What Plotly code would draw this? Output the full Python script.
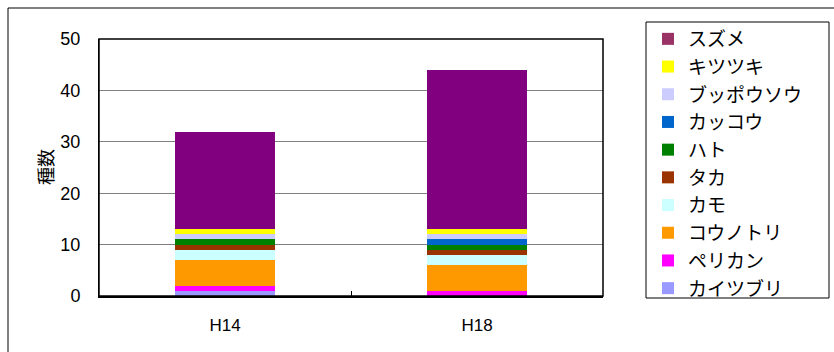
import plotly.graph_objects as go

categories = ["H14", "H18"]
# stacking order bottom -> top
species = ["カイツブリ", "ペリカン", "コウノトリ", "カモ", "タカ", "ハト", "カッコウ", "ブッポウソウ", "キツツキ", "スズメ"]
values = {
    "カイツブリ": [1, 0],
    "ペリカン": [1, 1],
    "コウノトリ": [5, 5],
    "カモ": [2, 2],
    "タカ": [1, 1],
    "ハト": [1, 1],
    "カッコウ": [0, 1],
    "ブッポウソウ": [1, 1],
    "キツツキ": [1, 1],
    "スズメ": [19, 31],
}
bar_colors = {
    "カイツブリ": "#9999FF", "ペリカン": "#FF00FF", "コウノトリ": "#FF9900", "カモ": "#CCFFFF",
    "タカ": "#993300", "ハト": "#008000", "カッコウ": "#0066CC", "ブッポウソウ": "#CCCCFF",
    "キツツキ": "#FFFF00", "スズメ": "#800080",
}
legend_colors = dict(bar_colors, **{"スズメ": "#993366"})
y_ticks = [0, 10, 20, 30, 40, 50]
y_title = "種数"

FONT = "Liberation Sans, Arial, Noto Sans CJK JP, sans-serif"
JFONT = "Noto Sans CJK JP, sans-serif"

fig = go.Figure()
for s in species:
    fig.add_trace(go.Bar(x=categories, y=values[s], name=s, marker=dict(color=bar_colors[s], line=dict(width=0)),
                         showlegend=False))
# legend entries, top to bottom
for s in reversed(species):
    fig.add_trace(go.Bar(x=[None], y=[None], name=s, marker=dict(color=legend_colors[s], line=dict(width=0)),
                         showlegend=True, legendgroup="g_" + s))

L, R, T, B = 99, 231, 39, 56
W, H = 834, 352
pw, ph = W - L - R, H - T - B

def px_x(p):
    return (p - L) / pw

def px_y(p):
    return (H - B - p) / ph

fig.update_layout(
    width=W, height=H,
    margin=dict(l=L, r=R, t=T, b=B, pad=0),
    paper_bgcolor="white", plot_bgcolor="white",
    barmode="stack", bargap=0.6,
    font=dict(family=FONT, size=16, color="black"),
    legend=dict(
        x=px_x(648), y=px_y(20), xanchor="left", yanchor="top",
        borderwidth=0, bgcolor="rgba(0,0,0,0)",
        font=dict(family=JFONT, size=19, color="black"),
        traceorder="grouped", tracegroupgap=0,
        itemwidth=30, maxheight=400,
    ),
    xaxis=dict(
        type="category", showline=True, linecolor="black", linewidth=2, mirror=False,
        ticks="inside", ticklen=5, tickcolor="black", tickson="boundaries",
        showgrid=False, tickfont=dict(size=17), ticklabelstandoff=13,
    ),
    yaxis=dict(
        range=[0, 50], tickvals=y_ticks, showline=True, linecolor="black", linewidth=1,
        showgrid=True, gridcolor="#808080", gridwidth=1, ticks="", zeroline=False,
        tickfont=dict(size=18), ticklabelstandoff=14,
    ),
    annotations=[dict(
        text=y_title, xref="paper", yref="paper", x=px_x(45), y=px_y(167),
        xanchor="center", yanchor="middle", textangle=-90, showarrow=False,
        font=dict(family=JFONT, size=18, color="black"),
    )],
    shapes=[
        dict(type="rect", xref="paper", yref="paper", x0=px_x(8), x1=px_x(850), y0=px_y(370), y1=px_y(8),
             line=dict(color="black", width=1), layer="below"),
        dict(type="rect", xref="paper", yref="paper", x0=0, x1=1, y0=0, y1=1,
             line=dict(color="black", width=1.5), layer="above"),
        dict(type="rect", xref="paper", yref="paper", x0=px_x(646), x1=px_x(829), y0=px_y(298), y1=px_y(22),
             line=dict(color="black", width=1), fillcolor="rgba(0,0,0,0)", layer="above"),
    ],
)

fig.write_html("out.html")
